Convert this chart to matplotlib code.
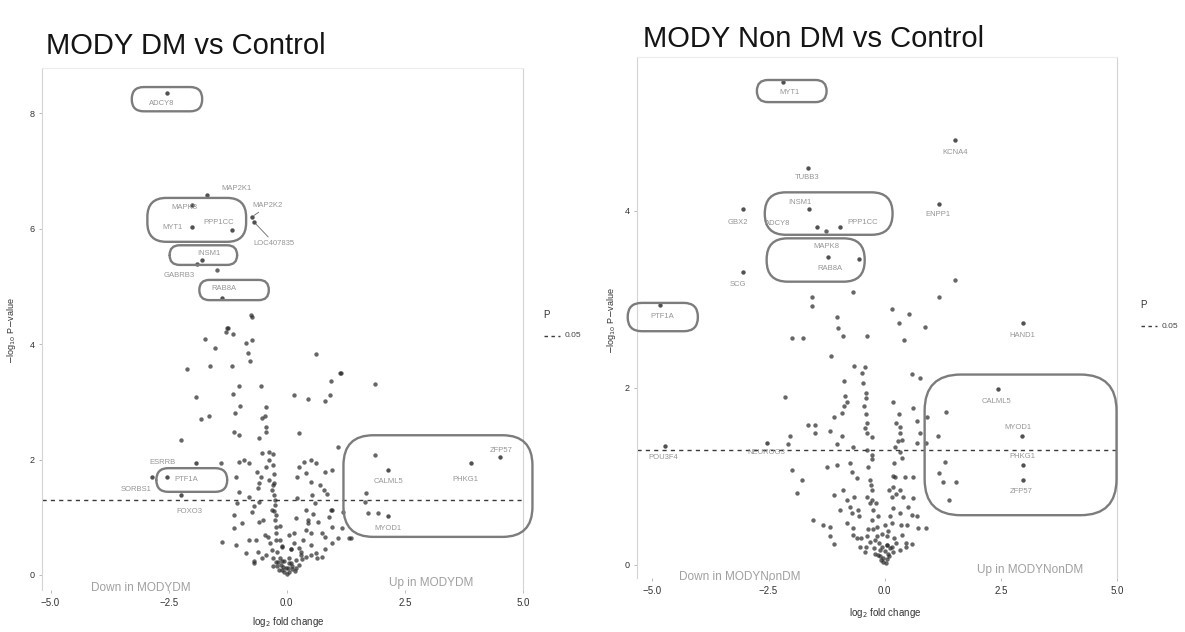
import matplotlib
matplotlib.use("Agg")
import matplotlib.pyplot as plt
from matplotlib.patches import FancyBboxPatch
from matplotlib.lines import Line2D
import numpy as np

plt.rcParams['font.family'] = ['Liberation Sans', 'DejaVu Sans']

# ---------------- data: MODY DM vs Control ----------------
dm_x = [-0.76, -1.28, -1.24, -1.14, -1.73, -1.52, -0.86, -0.74, -0.82, -0.78, 0.61, -2.11,
        -1.62, -1.16, 1.12, 0.93, 1.87, -1.01, -0.55, -1.92, -1.14, 0.15, 0.46, 0.91, 0.82,
        -0.99, -1.09, -0.44, -0.46, -0.53, -1.64, -1.81, -0.44, -0.44, -1.12, -1.01, 0.25,
        -0.59, -2.23, 1.09, -0.53, -0.38, -1.01, -0.91, -0.80, -1.39, -0.44, 0.36, 0.51,
        0.61, 0.25, 0.82, 0.95, -0.63, -0.38, -1.07, 0.21, 0.40, 0.51, -0.59, -0.32, -1.01,
        -0.80, 0.78, 0.53, 0.21, -0.59, -0.32, -1.05, 0.95, 0.40, -0.74, -1.12, 0.19, -0.23,
        -0.23, -0.59, -1.12, 0.67, 0.40, 0.51, 0.15, 0.95, 1.16, 0.74, 0.82, -0.65, -1.37,
        -1.07, -0.23, -0.32, -0.11, 0.15, 0.25, 0.51, 0.95, 1.09, 1.35, -0.86, -0.44, 0.61,
        0.74, -0.69, -0.23, -0.13, -0.02, 0.08, 0.19, 0.25, -0.06, 0.40, 0.51, -0.53, 1.20,
        0.93, 1.68, 1.66, 1.14, 1.31, -0.17, 0.04, -0.08, 0.11, 0.00, -0.21, 0.17, -0.25,
        -0.23, -0.27, -0.38, -1.26, -0.74, -1.47, 1.73, 1.94, 1.87, -0.30, -0.20, 0.30,
        -0.10, 0.05, -0.15, 0.10, 0.32, -0.40, 0.45, -0.28,
        -0.30, -0.30, -0.28, -0.30, -0.25, -0.27, -0.25, -0.55, -0.60, -0.70, -0.50, -0.45,
        -0.35, -0.15, -0.05, 0.05, 0.12, -0.10, 0.02, 0.20, -0.30, -0.18, 0.30, 0.35, 0.45,
        0.55, 0.60, 0.70, 0.85, 0.90, 0.65, 0.80, -0.60, -0.80, -0.95, -0.70, 0.10, -0.10,
        0.05, -0.15]
dm_y = [4.50, 4.21, 4.28, 4.17, 4.09, 3.93, 4.02, 4.07, 3.84, 3.71, 3.83, 3.57,
        3.62, 3.62, 3.50, 3.36, 3.31, 3.27, 3.27, 3.08, 3.13, 3.12, 3.05, 3.12, 3.01,
        2.93, 2.81, 2.91, 2.75, 2.72, 2.75, 2.70, 2.56, 2.48, 2.48, 2.42, 2.46,
        2.37, 2.34, 2.22, 2.11, 2.13, 1.96, 1.99, 1.94, 1.94, 1.87, 1.96, 1.99,
        1.94, 1.87, 1.78, 1.82, 1.78, 1.65, 1.70, 1.70, 1.77, 1.61, 1.59, 1.47, 1.44,
        1.35, 1.47, 1.39, 1.33, 1.26, 1.13, 1.25, 1.13, 1.13, 1.09, 1.04, 0.99, 0.83,
        0.73, 0.92, 0.81, 0.92, 0.78, 0.73, 0.73, 0.83, 0.81, 0.73, 0.66, 0.61, 0.57,
        0.52, 0.61, 0.43, 0.48, 0.55, 0.47, 0.52, 0.55, 0.64, 0.64, 0.38, 0.35, 0.38,
        0.31, 0.21, 0.23, 0.17, 0.12, 0.21, 0.26, 0.17, 0.05, 0.31, 0.35, 0.29, 1.09,
        1.13, 1.42, 1.26, 3.50, 0.64, 0.09, 0.05, 0.14, 0.10, 0.02, 0.16, 0.07, 1.21,
        1.04, 1.39, 1.99, 4.28, 4.47, 5.28, 1.07, 1.07, 2.08, 0.30, 0.40, 0.35,
        0.25, 0.20, 0.60, 0.45, 0.28, 0.65, 0.95, 1.60,
        2.10, 1.90, 1.75, 1.55, 1.30, 1.10, 0.95, 1.70, 1.50, 1.20, 0.95, 0.70,
        0.55, 0.30, 0.25, 0.30, 0.15, 0.08, 0.12, 0.12, 0.15, 0.22, 0.40, 0.60, 0.90,
        1.05, 1.25, 1.55, 1.40, 1.00, 0.30, 0.45, 0.40, 0.60, 0.90, 0.25, 0.45, 0.50,
        0.70, 0.85]
dm_genes = ['ADCY8', 'MAP2K1', 'MAPK8', 'MAP2K2', 'MYT1', 'PPP1CC', 'LOC407835', 'INSM1',
            'GABRB3', 'RAB8A', 'ESRRB', 'PTF1A', 'SORBS1', 'FOXO3', 'CALML5', 'PHKG1',
            'ZFP57', 'MYOD1']
dm_gene_x = [-2.53, -1.68, -2.00, -0.74, -2.00, -1.16, -0.69, -1.79, -1.89, -1.37,
             -1.92, -2.53, -2.86, -2.23, 2.15, 3.89, 4.51, 2.15]
dm_gene_y = [8.35, 6.58, 6.40, 6.20, 6.03, 5.97, 6.11, 5.45, 5.38, 4.80,
             1.94, 1.70, 1.70, 1.39, 1.82, 1.94, 2.04, 1.02]

# ---------------- data: MODY Non DM vs Control ----------------
nd_x = [-1.57, -1.57, -1.03, -1.01, -0.69, 0.15, -0.39, -2.00, -1.76, 1.51, 1.16, 0.52,
        0.30, 0.86, 0.41, -0.90, -1.16, -0.65, -0.43, -0.49, 0.58, 0.77, -0.88, -0.47,
        -2.15, -0.86, -0.82, -0.41, -0.41, 0.19, 0.62, -0.88, -1.08, -0.92, -0.39, 0.32,
        -1.66, -1.51, 0.69, 0.75, 0.32, 0.37, -1.51, -1.18, -2.04, -0.92, -0.39, -0.28,
        -2.09, -1.03, -0.69, -0.28, -0.28, 0.22, 0.32, 0.37, 0.69, 0.90, 0.92, 1.33, 1.14,
        1.29, 1.18, 1.53, 1.25, 1.38, -2.00, -1.78, -1.89, -1.25, -1.03, -0.75, -0.71,
        -0.60, -0.32, -0.28, 0.22, 0.43, 0.60, 0.17, 0.32, -0.39, -0.28, -1.08, -0.65,
        -0.82, 0.15, 0.39, -0.97, -0.71, -0.58, -0.26, 0.17, 0.32, 0.58, -1.55, -1.33,
        -1.18, -0.82, -0.69, -0.28, -0.17, 0.15, 0.47, 0.71, 0.90, -1.18, -0.69, -0.39,
        -0.17, 0.04, 0.37, 0.58, -1.08, -0.54, -0.11, -0.22, 0.00, 0.11, 0.17, -0.15,
        -0.04, 0.06, 0.32, -0.04, -0.43, -0.32, -1.27, -0.10, 0.08, -0.20, 0.25, -0.35,
        0.45, -0.50, 0.05,
        -0.45, -0.40, -0.42, -0.38, -0.35, -0.30, -0.32, 0.30, 0.25, 0.28, 0.20, 0.18,
        0.25, -0.12, -0.05, 0.05, 0.10, -0.08, 0.02, 0.15, -0.20, 0.20, -0.25, -0.15,
        0.00, 0.12, 0.35, 0.50, 0.60, 0.70, -0.55, -0.75, -0.90, -0.60, -0.40, 0.45,
        -0.05, 0.08, -0.18, 0.10]
nd_y = [3.03, 2.93, 2.80, 2.68, 3.08, 2.89, 2.59, 2.56, 2.56, 3.22, 3.03, 2.84,
        2.73, 2.69, 2.54, 2.59, 2.36, 2.25, 2.24, 2.17, 2.16, 2.11, 2.08, 2.05,
        1.90, 1.91, 1.84, 1.94, 1.88, 1.84, 1.77, 1.79, 1.67, 1.71, 1.60, 1.56,
        1.58, 1.58, 1.62, 1.49, 1.49, 1.41, 1.49, 1.51, 1.45, 1.46, 1.49, 1.44,
        1.36, 1.36, 1.33, 1.24, 1.19, 1.33, 1.28, 1.21, 1.38, 1.38, 1.67, 1.73, 1.45,
        1.16, 1.04, 0.93, 0.93, 0.73, 1.07, 0.96, 0.81, 1.10, 1.13, 1.15, 1.05,
        0.98, 0.96, 0.85, 0.99, 0.99, 0.99, 0.88, 0.85, 0.77, 0.73, 0.79, 0.77,
        0.73, 0.77, 0.77, 0.62, 0.59, 0.62, 0.62, 0.64, 0.59, 0.56, 0.51, 0.45,
        0.43, 0.47, 0.42, 0.51, 0.43, 0.47, 0.45, 0.42, 0.42, 0.32, 0.34, 0.32,
        0.32, 0.32, 0.34, 0.23, 0.23, 0.20, 0.17, 0.19, 0.15, 0.19, 0.14, 0.11,
        0.08, 0.06, 0.17, 0.03, 0.14, 0.26, 3.77, 0.10, 0.12, 0.28, 0.25, 0.40,
        0.20, 0.30, 0.22,
        1.80, 1.70, 1.55, 1.30, 1.10, 0.90, 0.70, 1.70, 1.60, 1.40, 1.15, 1.00,
        0.80, 0.25, 0.20, 0.22, 0.10, 0.05, 0.02, 0.20, 0.12, 0.30, 0.40, 0.55,
        0.45, 0.55, 0.45, 0.65, 0.75, 0.55, 0.55, 0.65, 0.85, 0.30, 0.20, 0.25,
        0.35, 0.38, 0.70, 0.85]
nd_genes = ['MYT1', 'TUBB3', 'INSM1', 'GBX2', 'ADCY8', 'PPP1CC', 'MAPK8', 'RAB8A', 'SCG',
            'PTF1A', 'KCNA4', 'ENPP1', 'HAND1', 'CALML5', 'MYOD1', 'PHKG1', 'ZFP57',
            'POU3F4', 'NEUROG3']
nd_gene_x = [-2.19, -1.66, -1.63, -3.05, -1.46, -0.97, -1.23, -0.56, -3.05,
             -4.84, 1.51, 1.16, 2.97, 2.43, 2.95, 2.97, 2.97, -4.73, -2.54]
nd_gene_y = [5.46, 4.49, 4.02, 4.02, 3.82, 3.82, 3.48, 3.46, 3.31,
             2.94, 4.80, 4.08, 2.73, 1.99, 1.46, 1.13, 0.96, 1.34, 1.38]

p_cutoff = 0.05
x_ticks = [-5.0, -2.5, 0.0, 2.5, 5.0]

# ---------------- layout / style (pixels) ----------------
W, H = 1185, 632
fig = plt.figure(figsize=(W / 100, H / 100), dpi=100)

def frac_rect(x0, x1, ytop, ybot):
    return [x0 / W, 1 - ybot / H, (x1 - x0) / W, (ybot - ytop) / H]

PT = 0.72  # pixels -> points

dm_offsets = {  # label offset in pixels (dx right, dy down)
    'ADCY8': (-6, 11), 'MAP2K1': (29, -7), 'MAPK8': (-8, 2), 'MAP2K2': (16, -11),
    'MYT1': (-20, 1), 'PPP1CC': (-13, -8), 'LOC407835': (20, 21), 'INSM1': (7, -7),
    'GABRB3': (-18, 11), 'RAB8A': (2, -9), 'ESRRB': (-34, 0), 'PTF1A': (19, 3),
    'SORBS1': (-15, 13), 'FOXO3': (8, 17), 'CALML5': (0, 12), 'PHKG1': (-5, 17),
    'ZFP57': (1, -7), 'MYOD1': (0, 12)}
dm_connect = {'LOC407835', 'MAP2K2'}
nd_offsets = {
    'MYT1': (7, 11), 'TUBB3': (0, 10), 'INSM1': (-9, -7), 'GBX2': (-5, 13),
    'ADCY8': (-39, -3), 'PPP1CC': (23, -4), 'MAPK8': (-1, -10), 'RAB8A': (-29, 10),
    'SCG': (-5, 13), 'PTF1A': (2, 12), 'KCNA4': (0, 12), 'ENPP1': (-1, 11),
    'HAND1': (0, 12), 'CALML5': (-1, 13), 'MYOD1': (-4, -8), 'PHKG1': (0, -8),
    'ZFP57': (-1, 12), 'POU3F4': (-2, 11), 'NEUROG3': (0, 10)}

POINT_C = '#262626'
LABEL_C = '#959595'
BOX_C = '#7c7c7c'


def rbox(ax, x0, x1, y0, y1, r_px):
    t0 = ax.transData.transform((0, 0))
    t1 = ax.transData.transform((1, 1))
    xppu = t1[0] - t0[0]
    yppu = t1[1] - t0[1]
    p = FancyBboxPatch((x0, y0), x1 - x0, y1 - y0,
                       boxstyle=f"round,pad=0,rounding_size={r_px / xppu}",
                       mutation_aspect=xppu / yppu, fill=False,
                       edgecolor=BOX_C, linewidth=1.7, clip_on=False, zorder=4)
    ax.add_patch(p)


def panel(rect, xlim, ylim, yticks, xs, ys, genes, gx, gy, offsets, connect,
          boxes, down_txt, up_txt, down_pos, up_pos):
    ax = fig.add_axes(rect)
    ax.set_xlim(*xlim)
    ax.set_ylim(*ylim)
    ax.set_facecolor('white')
    ax.scatter(xs, ys, s=10, c=POINT_C, alpha=0.7, linewidths=0, zorder=3)
    ax.scatter(gx, gy, s=10, c=POINT_C, alpha=0.8, linewidths=0, zorder=3)
    for g, x, y in zip(genes, gx, gy):
        dx, dy = offsets[g]
        kw = {}
        if g in connect:
            kw['arrowprops'] = dict(arrowstyle='-', color='#666666', lw=0.6,
                                    shrinkA=0, shrinkB=2)
        ax.annotate(g, (x, y), xytext=(dx * PT, -dy * PT), textcoords='offset points',
                    ha='center', va='center', fontsize=5.5, color=LABEL_C, zorder=5, **kw)
    ax.axhline(-np.log10(p_cutoff), color='#3a3a3a', lw=1.0, ls=(0, (3, 3)), zorder=2)
    for (bx0, bx1, by0, by1, r) in boxes:
        rbox(ax, bx0, bx1, by0, by1, r)
    ax.text(down_pos[0], down_pos[1], down_txt, ha='center', va='center',
            fontsize=8.5, color='#a0a0a0')
    ax.text(up_pos[0], up_pos[1], up_txt, ha='center', va='center',
            fontsize=8.5, color='#a0a0a0')
    ax.set_xticks(x_ticks)
    ax.set_xticklabels([f"{v:.1f}".replace('-', '\u2212') for v in x_ticks])
    ax.set_yticks(yticks)
    ax.tick_params(axis='both', length=2.5, width=0.6, color='#b0b0b0',
                   labelsize=7, labelcolor='#333333', pad=3)
    ax.tick_params(axis='y', labelsize=6.5)
    for s in ['left', 'right']:
        ax.spines[s].set_color('#d4d4d4')
        ax.spines[s].set_linewidth(0.8)
    ax.spines['top'].set_color('#ececec')
    ax.spines['top'].set_linewidth(0.8)
    ax.spines['bottom'].set_visible(False)
    return ax


ax1 = panel(frac_rect(42, 523, 68, 590), (-5.18, 4.95), (-0.26, 8.78), [0, 2, 4, 6, 8],
            dm_x, dm_y, dm_genes, dm_gene_x, dm_gene_y, dm_offsets, dm_connect,
            [(-3.28, -1.79, 8.03, 8.45, 12), (-2.95, -0.86, 5.77, 6.53, 19),
             (-2.48, -1.05, 5.37, 5.71, 10), (-1.85, -0.38, 4.76, 5.11, 10),
             (-2.76, -1.26, 1.44, 1.85, 12), (1.20, 5.20, 0.66, 2.42, 30)],
            'Down in MODYDM', 'Up in MODYDM', (-3.09, -0.22), (3.05, -0.14))

ax2 = panel(frac_rect(637, 1117, 57, 578), (-5.33, 4.99), (-0.15, 5.74), [0, 2, 4],
            nd_x, nd_y, nd_genes, nd_gene_x, nd_gene_y, nd_offsets, set(),
            [(-2.75, -1.25, 5.23, 5.48, 11), (-2.58, 0.17, 3.73, 4.21, 21),
             (-2.54, -0.43, 3.20, 3.69, 21), (-5.53, -4.02, 2.64, 2.96, 14),
             (0.86, 4.99, 0.56, 2.15, 36)],
            'Down in MODYNonDM', 'Up in MODYNonDM', (-3.12, -0.14), (3.12, -0.06))

# axis labels
for cx, cy in [(288, 622), (885, 613)]:
    fig.text(cx / W, 1 - cy / H, r'log$_2$ fold change', ha='center', va='center',
             fontsize=7, color='#333333')
for cx, cy in [(12, 330), (612, 320)]:
    fig.text(cx / W, 1 - cy / H, r'$-$log$_{10}$ P$-$value', ha='center', va='center',
             rotation=90, fontsize=6.5, color='#333333')

# titles
fig.text(46 / W, 1 - 54 / H, 'MODY DM vs Control', fontsize=21, color='#141414',
         ha='left', va='baseline')
fig.text(643 / W, 1 - 47 / H, 'MODY Non DM vs Control', fontsize=21, color='#141414',
         ha='left', va='baseline')

# legends
for (px, py) in [(543, 315), (1140, 305)]:
    fig.text(px / W, 1 - py / H, 'P', fontsize=7, color='#333333', ha='left', va='center')
    fig.add_artist(Line2D([(px + 1) / W, (px + 17) / W], [1 - (py + 21) / H] * 2,
                          color='#3a3a3a', lw=1.0, ls=(0, (2.5, 2.5))))
    fig.text((px + 22) / W, 1 - (py + 21) / H, '0.05', fontsize=6, color='#444444',
             ha='left', va='center')

fig.savefig('out.png', dpi=100, facecolor='white')
